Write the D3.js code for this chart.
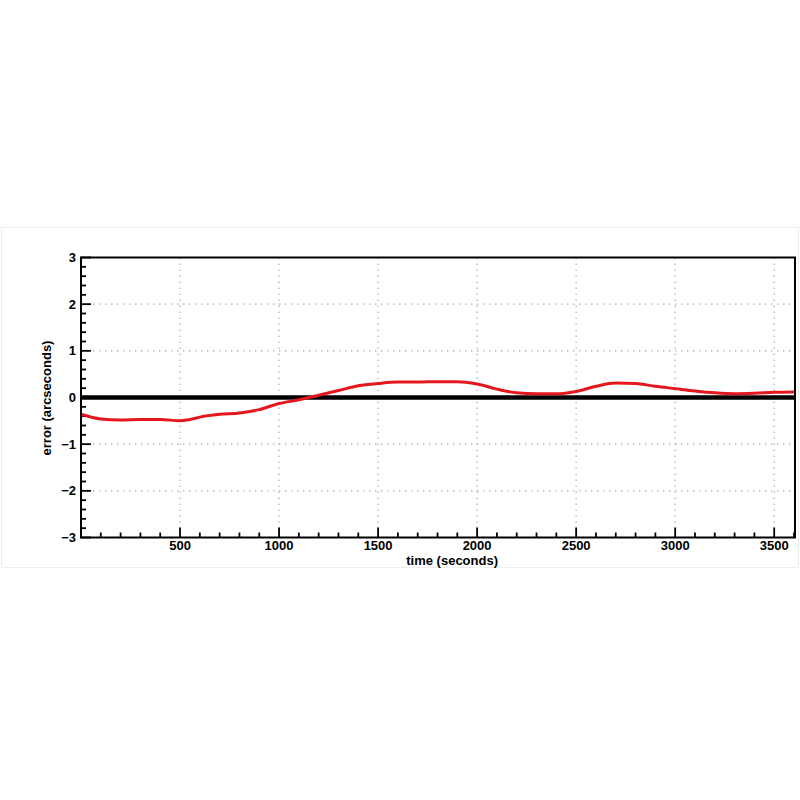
<!DOCTYPE html>
<html><head><meta charset="utf-8">
<script src="https://cdn.jsdelivr.net/npm/d3@7"></script>
<style>body{margin:0;background:#fff;} text{font-family:"Liberation Sans",Arial,sans-serif;font-weight:bold;}</style>
</head><body><svg id="c" width="800" height="800"></svg>
<script>
const times = [0,100,200,300,400,500,550,600,700,800,900,1000,1100,1200,1300,1400,1500,1600,1700,1800,1900,2000,2100,2200,2300,2400,2500,2600,2700,2800,2900,3000,3100,3200,3300,3400,3500,3600];
const errors = [-0.36,-0.46,-0.48,-0.47,-0.47,-0.50,-0.47,-0.42,-0.36,-0.33,-0.26,-0.13,-0.05,0.05,0.15,0.25,0.30,0.33,0.33,0.34,0.34,0.29,0.18,0.10,0.08,0.08,0.13,0.24,0.31,0.30,0.24,0.19,0.14,0.10,0.08,0.09,0.11,0.12];
const xMajor = [500,1000,1500,2000,2500,3000,3500];
const yMajor = [-3,-2,-1,0,1,2,3];
const xTitle = "time (seconds)";
const yTitle = "error (arcseconds)";

const svg = d3.select("#c");
const L=81, R=795, T=257.5, B=537.5;
const x = d3.scaleLinear().domain([0,3605]).range([L,R]);
const y = d3.scaleLinear().domain([-3,3]).range([B,T]);

// faint figure frame
svg.append("rect").attr("x",1.5).attr("y",227.5).attr("width",797).attr("height",340)
  .attr("fill","none").attr("stroke","#eeeeee").attr("stroke-width",1);

// grid
const g = svg.append("g");
g.selectAll(".vg").data(xMajor).join("line")
  .attr("x1",d=>x(d)).attr("x2",d=>x(d)).attr("y1",T).attr("y2",B)
  .attr("stroke","#b0b0b0").attr("stroke-width",1.2).attr("stroke-dasharray","1.5,4.5");
g.selectAll(".hg").data(yMajor.filter(d=>d!==0&&Math.abs(d)!==3)).join("line")
  .attr("x1",L).attr("x2",R).attr("y1",d=>y(d)).attr("y2",d=>y(d))
  .attr("stroke","#b0b0b0").attr("stroke-width",1.2).attr("stroke-dasharray","1.5,4.5");

// ticks (inward)
const xMinor = d3.range(100,3601,100);
svg.append("g").selectAll("line").data(xMinor).join("line")
  .attr("x1",d=>x(d)).attr("x2",d=>x(d)).attr("y1",B)
  .attr("y2",d=>B-(d%500===0?10:5)).attr("stroke","#000").attr("stroke-width",1.8);
const yMinor = d3.range(-30,31,2).map(d=>d/10);
svg.append("g").selectAll("line").data(yMinor).join("line")
  .attr("y1",d=>y(d)).attr("y2",d=>y(d)).attr("x1",L)
  .attr("x2",d=>L+(Math.abs(d-Math.round(d))<1e-9?10:5)).attr("stroke","#000").attr("stroke-width",1.8);

// tick labels
svg.append("g").selectAll("text").data(xMajor).join("text")
  .attr("x",d=>x(d)).attr("y",550).attr("text-anchor","middle")
  .attr("font-size",13).text(d=>d);
svg.append("g").selectAll("text").data(yMajor).join("text")
  .attr("x",76).attr("y",d=>y(d)+4.5).attr("text-anchor","end")
  .attr("font-size",13).text(d=>d<0?"\u2212"+Math.abs(d):d);

// titles
svg.append("text").attr("x",498).attr("y",565).attr("text-anchor","end")
  .attr("font-size",13).text(xTitle);
svg.append("text").attr("transform","translate(51,398) rotate(-90)").attr("text-anchor","middle")
  .attr("font-size",13).text(yTitle);

// zero line
svg.append("line").attr("x1",L).attr("x2",R).attr("y1",y(0)).attr("y2",y(0))
  .attr("stroke","#000").attr("stroke-width",4.5);

// data line
const line = d3.line().x((d,i)=>x(times[i])).y(d=>y(d)).curve(d3.curveMonotoneX);
svg.append("path").datum(errors).attr("d",line).attr("fill","none")
  .attr("stroke","#e3171c").attr("stroke-width",3);

// frame
svg.append("rect").attr("x",L).attr("y",T).attr("width",R-L).attr("height",B-T)
  .attr("fill","none").attr("stroke","#000").attr("stroke-width",2);
</script></body></html>
